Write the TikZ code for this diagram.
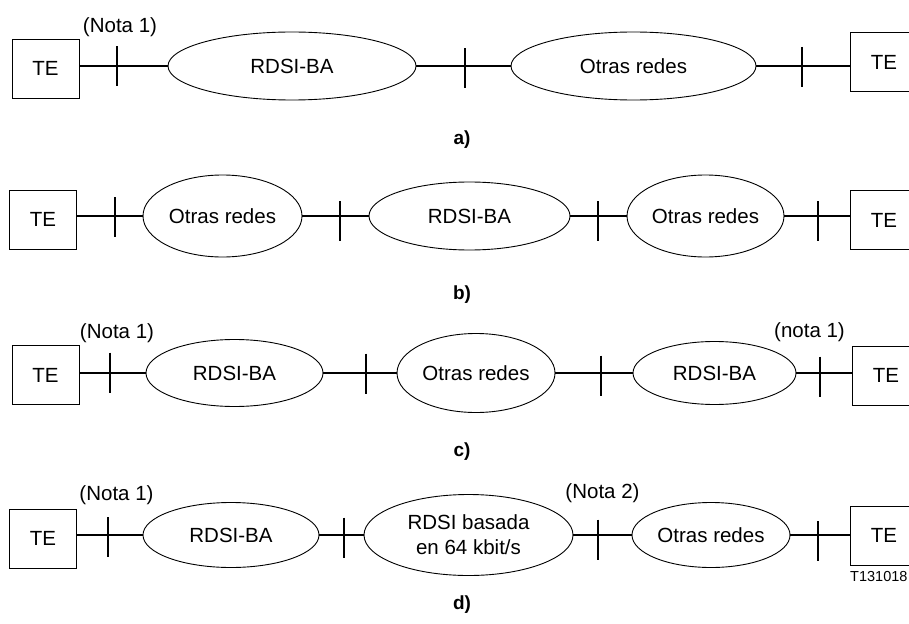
\documentclass[tikz,border=0pt]{standalone}
\usepackage{fontspec}
\setmainfont{Liberation Sans}
\usetikzlibrary{shapes.geometric}
\begin{document}
\begin{tikzpicture}[x=1pt,y=-1pt,
  font=\fontsize{20.5}{25}\selectfont,
  tebox/.style={draw, line width=0.9pt, minimum width=67pt, minimum height=59pt, inner sep=0pt},
  net/.style={draw, ellipse, line width=0.9pt, inner sep=0pt, align=center},
  wire/.style={line width=2.3pt},
  tickmark/.style={line width=2.3pt},
  note/.style={inner sep=0pt},
  caption/.style={inner sep=0pt, font=\fontsize{19}{23}\selectfont\bfseries}]
  \useasboundingbox (0,0) rectangle (909,623);
  % a)
  \node[tebox] (teA1) at (45.5,68.5) {TE};
  \coordinate (tA1) at (117,66.5);
  \node[net, minimum width=248pt, minimum height=68pt] (nA1) at (292,66) {RDSI-BA};
  \coordinate (tA2) at (465,68.5);
  \node[net, minimum width=245pt, minimum height=68pt] (nA2) at (633.5,66) {Otras redes};
  \coordinate (tA3) at (802,67);
  \node[tebox] (teA2) at (884,62) {TE};
  \node[note] (ntA) at (120,27) {(Nota 1)};
  \node[caption] (capA) at (462,140) {a)};
  \draw[wire] (teA1.east |- nA1.west) -- (nA1.west);
  \draw[wire] (nA1.east) -- (nA2.west);
  \draw[wire] (nA2.east) -- (teA2.west |- nA2.east);
  % b)
  \node[tebox] (teB1) at (43,219.5) {TE};
  \coordinate (tB1) at (115,217);
  \node[net, minimum width=159pt, minimum height=82pt] (nB1) at (222.5,216) {Otras redes};
  \coordinate (tB2) at (340,221);
  \node[net, minimum width=201pt, minimum height=68pt] (nB2) at (469.5,216) {RDSI-BA};
  \coordinate (tB3) at (598,221);
  \node[net, minimum width=157pt, minimum height=82pt] (nB3) at (705.5,216) {Otras redes};
  \coordinate (tB4) at (818,221);
  \node[tebox] (teB2) at (884,220) {TE};
  \node[caption] (capB) at (462,295) {b)};
  \draw[wire] (teB1.east |- nB1.west) -- (nB1.west);
  \draw[wire] (nB1.east) -- (nB2.west);
  \draw[wire] (nB2.east) -- (nB3.west);
  \draw[wire] (nB3.east) -- (teB2.west |- nB3.east);
  % c)
  \node[tebox] (teC1) at (45.5,375) {TE};
  \coordinate (tC1) at (110,372.5);
  \node[net, minimum width=177pt, minimum height=67pt] (nC1) at (234.5,373) {RDSI-BA};
  \coordinate (tC2) at (366,373.5);
  \node[net, minimum width=158pt, minimum height=79pt] (nC2) at (476,373) {Otras redes};
  \coordinate (tC3) at (601,375.5);
  \node[net, minimum width=163pt, minimum height=63pt] (nC3) at (714.5,373) {RDSI-BA};
  \coordinate (tC4) at (820,376.5);
  \node[tebox] (teC2) at (886,375.5) {TE};
  \node[note] (ntC1) at (117,333) {(Nota 1)};
  \node[note] (ntC2) at (809.5,332) {(nota 1)};
  \node[caption] (capC) at (462,452) {c)};
  \draw[wire] (teC1.east |- nC1.west) -- (nC1.west);
  \draw[wire] (nC1.east) -- (nC2.west);
  \draw[wire] (nC2.east) -- (nC3.west);
  \draw[wire] (nC3.east) -- (teC2.west |- nC3.east);
  % d)
  \node[tebox] (teD1) at (43,538.5) {TE};
  \coordinate (tD1) at (108,537);
  \node[net, minimum width=176pt, minimum height=65pt] (nD1) at (231,535) {RDSI-BA};
  \coordinate (tD2) at (344,537.5);
  \node[net, minimum width=209pt, minimum height=81pt] (nD2) at (468.5,535) {RDSI basada\\en 64 kbit/s};
  \coordinate (tD3) at (598,539.5);
  \node[net, minimum width=158pt, minimum height=65pt] (nD3) at (711,535) {Otras redes};
  \coordinate (tD4) at (818,541);
  \node[tebox] (teD2) at (884,535.5) {TE};
  \node[note] (ntD1) at (116.5,495) {(Nota 1)};
  \node[note] (ntD2) at (602.5,493) {(Nota 2)};
  \node[caption] (capD) at (462,605) {d)};
  \node[note, anchor=west, font=\fontsize{14.5}{17}\selectfont] (ref) at (850,577) {T131018};
  \draw[wire] (teD1.east |- nD1.west) -- (nD1.west);
  \draw[wire] (nD1.east) -- (nD2.west);
  \draw[wire] (nD2.east) -- (nD3.west);
  \draw[wire] (nD3.east) -- (teD2.west |- nD3.east);
  % ticks on the connections
  \foreach \t in {tA1,tA2,tA3,tB1,tB2,tB3,tB4,tC1,tC2,tC3,tC4,tD1,tD2,tD3,tD4}
    \draw[tickmark] ([yshift=20pt]\t) -- ([yshift=-20pt]\t);
\end{tikzpicture}
\end{document}
